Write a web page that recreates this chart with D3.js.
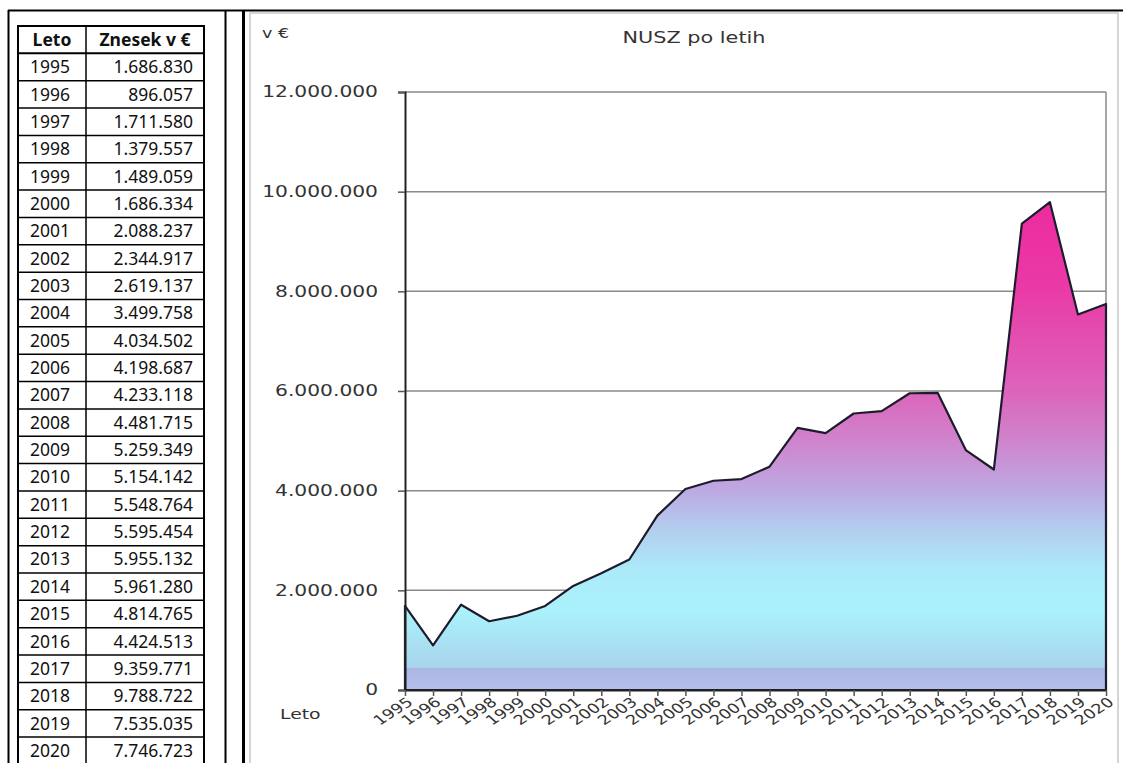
<!DOCTYPE html>
<html>
<head>
<meta charset="utf-8">
<script src="https://cdn.jsdelivr.net/npm/d3@7"></script>
<style>
  body { margin: 0; background: #fff; }
  svg { display: block; }
  .tbl text { font-family: "Noto Sans", sans-serif; font-size: 17.5px; fill: #111; }
  .chart text { font-family: "DejaVu Sans", Verdana, sans-serif; fill: #333; }
</style>
</head>
<body>
<script>
var years = ["1995","1996","1997","1998","1999","2000","2001","2002","2003","2004","2005","2006","2007",
             "2008","2009","2010","2011","2012","2013","2014","2015","2016","2017","2018","2019","2020"];
var amounts = [1686830, 896057, 1711580, 1379557, 1489059, 1686334, 2088237, 2344917, 2619137, 3499758,
               4034502, 4198687, 4233118, 4481715, 5259349, 5154142, 5548764, 5595454, 5955132, 5961280,
               4814765, 4424513, 9359771, 9788722, 7535035, 7746723];
var yTicks = [0, 2000000, 4000000, 6000000, 8000000, 10000000, 12000000];
var tableHeader = ["Leto", "Znesek v \u20ac"];

var width = 1123,
    height = 763;

var loc = d3.formatLocale({decimal: ",", thousands: ".", grouping: [3], currency: ["", "\u20ac"]});
var fmt = loc.format(",d");

var svg = d3.select("body").append("svg")
    .attr("width", width)
    .attr("height", height);

// frames
svg.append("line").attr("x1", 8).attr("x2", width).attr("y1", 10.5).attr("y2", 10.5)
    .attr("stroke", "#000").attr("stroke-width", 2);
svg.append("line").attr("x1", 8.5).attr("x2", 8.5).attr("y1", 10).attr("y2", height)
    .attr("stroke", "#000").attr("stroke-width", 2);
svg.append("line").attr("x1", 225.5).attr("x2", 225.5).attr("y1", 10).attr("y2", height)
    .attr("stroke", "#000").attr("stroke-width", 2);
svg.append("line").attr("x1", 243.5).attr("x2", 243.5).attr("y1", 10).attr("y2", height)
    .attr("stroke", "#000").attr("stroke-width", 3);
svg.append("rect").attr("x", 250).attr("y", 13).attr("width", 868).attr("height", 760)
    .attr("fill", "#fff").attr("stroke", "#c8c8c8").attr("stroke-width", 1.5);

//table
var tbl = svg.append("g").attr("class", "tbl");
var rowH = 27.35, tblTop = 26, colX = [18, 86, 204];

tbl.append("rect")
    .attr("x", colX[0]).attr("y", tblTop)
    .attr("width", colX[2] - colX[0]).attr("height", rowH * (years.length + 1) + 5)
    .attr("fill", "none").attr("stroke", "#000").attr("stroke-width", 2);
tbl.append("line").attr("x1", colX[1]).attr("x2", colX[1])
    .attr("y1", tblTop).attr("y2", height).attr("stroke", "#000").attr("stroke-width", 1.5);

tbl.selectAll("line.row")
    .data(d3.range(1, years.length + 1))
    .enter().append("line")
    .attr("class", "row")
    .attr("x1", colX[0]).attr("x2", colX[2])
    .attr("y1", function(i) { return tblTop + i * rowH; })
    .attr("y2", function(i) { return tblTop + i * rowH; })
    .attr("stroke", "#000").attr("stroke-width", function(i) { return i == 1 ? 2 : 1.5; });

tbl.append("text").attr("x", (colX[0] + colX[1]) / 2).attr("y", tblTop + rowH / 2)
    .attr("dy", "0.35em").attr("text-anchor", "middle").attr("font-weight", "bold").text(tableHeader[0]);
tbl.append("text").attr("x", (colX[1] + colX[2]) / 2).attr("y", tblTop + rowH / 2)
    .attr("dy", "0.35em").attr("text-anchor", "middle").attr("font-weight", "bold").text(tableHeader[1]);

tbl.selectAll("text.yr")
    .data(years)
    .enter().append("text")
    .attr("class", "yr")
    .attr("x", 30)
    .attr("y", function(d, i) { return tblTop + (i + 1.5) * rowH; })
    .attr("dy", "0.35em")
    .text(function(d) { return d; });

tbl.selectAll("text.amt")
    .data(amounts)
    .enter().append("text")
    .attr("class", "amt")
    .attr("x", 193)
    .attr("y", function(d, i) { return tblTop + (i + 1.5) * rowH; })
    .attr("dy", "0.35em")
    .attr("text-anchor", "end")
    .text(function(d) { return fmt(d); });

//chart
var chart = svg.append("g").attr("class", "chart");
var x0 = 405, x1 = 1106, yTop = 92, yBot = 690;

var x = d3.scalePoint().domain(years).range([x0, x1]);
var y = d3.scaleLinear().domain([0, 12000000]).range([yBot, yTop]);

// gradient stops keyed to values
var stops = [
    [12000000, "#f02a9e"], [9800000, "#ee2a9e"], [8000000, "#e93ba7"], [6000000, "#dc64bb"],
    [5000000, "#cf84cc"], [4000000, "#bda9e2"], [3200000, "#b2cfef"], [2400000, "#abeaf9"],
    [1600000, "#aaf2fb"], [600000, "#a9d8ee"], [450000, "#a9d3ec"], [440000, "#abb6e3"], [0, "#b4c0ea"]
];
var grad = svg.append("defs").append("linearGradient")
    .attr("id", "areaGrad")
    .attr("gradientUnits", "userSpaceOnUse")
    .attr("x1", 0).attr("x2", 0).attr("y1", yTop).attr("y2", yBot);
grad.selectAll("stop")
    .data(stops)
    .enter().append("stop")
    .attr("offset", function(d) { return (y(d[0]) - yTop) / (yBot - yTop); })
    .attr("stop-color", function(d) { return d[1]; });

// grid
chart.selectAll("line.grid")
    .data(yTicks.slice(1))
    .enter().append("line")
    .attr("class", "grid")
    .attr("x1", x0).attr("x2", x1)
    .attr("y1", function(d) { return y(d); })
    .attr("y2", function(d) { return y(d); })
    .attr("stroke", "#8a8a8a").attr("stroke-width", 1.5);
chart.append("line").attr("x1", x1).attr("x2", x1).attr("y1", yTop).attr("y2", yBot)
    .attr("stroke", "#8a8a8a").attr("stroke-width", 1.5);

var area = d3.area()
    .x(function(d, i) { return x(years[i]); })
    .y0(yBot)
    .y1(function(d) { return y(d); });

chart.append("path")
    .datum(amounts)
    .attr("d", area)
    .attr("fill", "url(#areaGrad)")
    .attr("stroke", "#1c1c2c")
    .attr("stroke-width", 2.2)
    .attr("stroke-linejoin", "round");

// axes
var yAxis = chart.append("g")
    .attr("transform", "translate(" + x0 + ",0)")
    .call(d3.axisLeft(y).tickValues(yTicks).tickFormat(fmt).tickSize(7).tickPadding(0));
yAxis.select(".domain").attr("stroke", "#222").attr("stroke-width", 2);
yAxis.selectAll(".tick line").attr("stroke", "#555").attr("stroke-width", 1.5);
yAxis.selectAll(".tick text").remove();

chart.selectAll("text.ylab")
    .data(yTicks)
    .enter().append("text")
    .attr("class", "ylab")
    .attr("transform", function(d) { return "translate(378," + y(d) + ") scale(1.35,1)"; })
    .attr("dy", "0.35em")
    .attr("text-anchor", "end")
    .style("font-size", "15px")
    .text(function(d) { return fmt(d); });

var xAxis = chart.append("g")
    .attr("transform", "translate(0," + yBot + ")")
    .call(d3.axisBottom(x).tickSize(6).tickSizeOuter(0));
xAxis.select(".domain").attr("stroke", "#222").attr("stroke-width", 2);
xAxis.selectAll(".tick line").attr("stroke", "#555").attr("stroke-width", 1.5);
xAxis.selectAll(".tick text").remove();

chart.selectAll("text.xlab")
    .data(years)
    .enter().append("text")
    .attr("class", "xlab")
    .attr("transform", function(d) { return "translate(" + (x(d) + 5) + ",700) scale(1.3,1) rotate(-40)"; })
    .attr("dy", "0.35em")
    .attr("text-anchor", "end")
    .style("font-size", "13.5px")
    .text(function(d) { return d; });

// titles
chart.append("text")
    .attr("transform", "translate(694,43) scale(1.3,1)")
    .attr("text-anchor", "middle")
    .style("font-size", "16px")
    .text("NUSZ po letih");
chart.append("text")
    .attr("transform", "translate(262,38) scale(1.3,1)")
    .style("font-size", "13.5px")
    .text("v \u20ac");
chart.append("text")
    .attr("transform", "translate(280,719) scale(1.3,1)")
    .style("font-size", "14.5px")
    .text("Leto");
</script>
</body>
</html>
